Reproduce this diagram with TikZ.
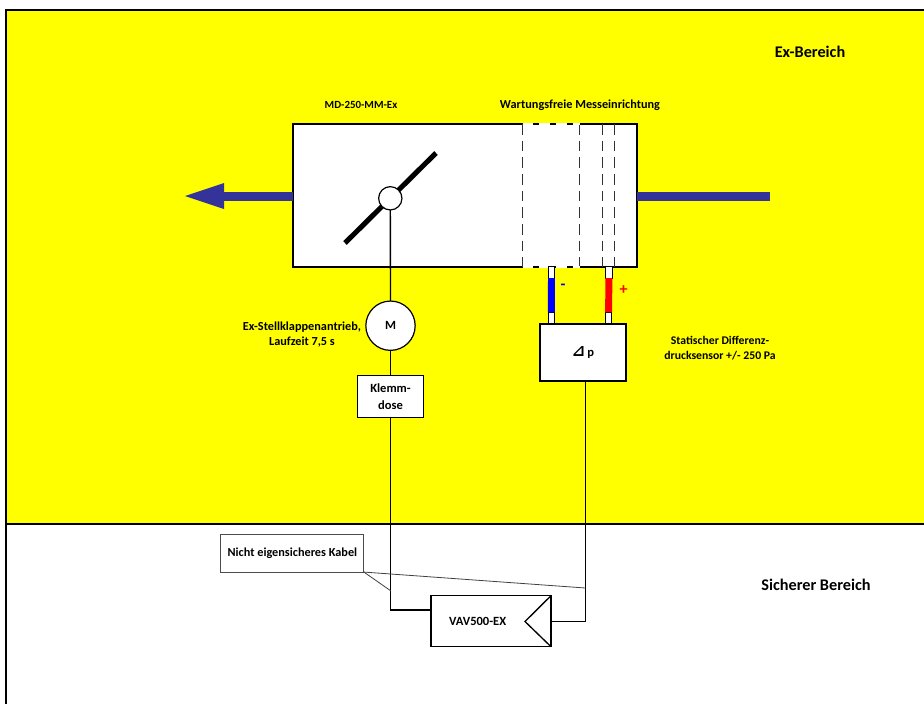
\documentclass[tikz,border=0pt]{standalone}
\usepackage{fontspec}
\setmainfont{Carlito}
\newfontfamily\symfont{DejaVu Sans}
\usepackage{xcolor}
\usetikzlibrary{arrows.meta,positioning,calc}
\definecolor{exyellow}{HTML}{FFFF00}
\definecolor{flowblue}{HTML}{333399}
\definecolor{tubeblue}{HTML}{0000FF}
\definecolor{tubered}{HTML}{FF0000}
\tikzset{
  boxnode/.style={draw=black, fill=white, line width=0.9pt, align=center, outer sep=0pt, inner sep=0pt, font=\fontsize{9.4}{12.4}\selectfont\bfseries},
  roundnode/.style={boxnode, circle},
  stubnode/.style={draw=black, fill=white, line width=0.7pt, outer sep=0pt, inner sep=0pt, minimum width=5pt, minimum height=8.5pt},
  textnode/.style={align=center, inner sep=0pt, font=\fontsize{9.2}{11.2}\selectfont\bfseries},
  zonetext/.style={textnode, font=\fontsize{12.2}{14}\selectfont\bfseries},
  signtext/.style={textnode, font=\fontsize{12}{14}\selectfont\bfseries},
  wire/.style={draw=black, line width=1pt},
  leader/.style={draw=black!75, line width=0.6pt},
  flow/.style={draw=flowblue, line width=6.6pt},
  tube/.style={line width=5.2pt},
  zone/.style={line width=0.9pt, draw=black}
}

\begin{document}
\begin{tikzpicture}[x=0.75pt, y=-0.75pt]
  \useasboundingbox (0,0) rectangle (924,704);
  % zones
  \fill[exyellow] (6,10) rectangle (924,524);
  \draw[zone] (6,704) -- (6,10) -- (924,10);
  \draw[zone] (6,524) -- (924,524);
  \node[zonetext] (exzone) at (810,52) {Ex-Bereich};
  \node[zonetext] (safezone) at (816,585) {Sicherer Bereich};

  % air flow
  \coordinate (flowin) at (770,196.5);
  \coordinate (flowtip) at (224,196.5);
  \node[boxnode, minimum width=258pt, minimum height=107.25pt] (duct) at (465,195.5) {};
  \draw[flow] (flowin) -- (flowin -| duct.east);
  \draw[flow] (duct.west |- flowtip) -- (flowtip);
  \fill[flowblue] (185,196) -- (224,183) -- (224,209) -- cycle;

  % measuring section
  \draw[black!80, line width=1pt, dash pattern=on 8pt off 4.5pt] (522.5,124) -- (522.5,267) (579.7,124) -- (579.7,267) (602.7,124) -- (602.7,267) (614.3,124) -- (614.3,267);
  \draw[white, line width=0.9pt, dash pattern=on 8pt off 4.5pt] (522.5,124) -- (579.7,124) (522.5,267) -- (579.7,267);
  \node[textnode, font=\fontsize{8.2}{10}\selectfont\bfseries] (ducttitle) at (361,105) {MD-250-MM-Ex};
  \node[textnode] (messtitle) at (580,105) {Wartungsfreie Messeinrichtung};

  % damper
  \coordinate (flapa) at (345,243);
  \coordinate (flapb) at (436,153);
  \draw[line width=3.8pt] (flapa) -- (flapb);
  \node[roundnode, minimum size=17.5pt] (shaft) at (390.3,198.3) {};
  \node[roundnode, minimum size=37pt] (motor) at (390.5,325.7) {M};
  \node[boxnode, minimum width=50pt, minimum height=31.5pt] (klemm) at (390.5,396.7) {Klemm-\\dose};
  \node[textnode] (motorlabel) at (302,334.5) {Ex-Stellklappenantrieb,\\Laufzeit 7,5 s};
  \draw[wire] (shaft) -- (motor);
  \draw[wire] (motor) -- (klemm);

  % sensor
  \node[boxnode, minimum width=64.5pt, minimum height=42.75pt] (sensor) at (583,352.5) {{\symfont\fontsize{12}{12}\selectfont\char"22BF}\,p};
  \node[stubnode] (stubminusa) at (551.5,272.5) {};
  \node[stubnode] (stubminusb) at (551.3,318) {};
  \node[stubnode] (stubplusa) at (609,272.5) {};
  \node[stubnode] (stubplusb) at (608.5,318) {};
  \draw[tube, tubeblue] (stubminusa) -- (stubminusb);
  \draw[tube, tubered] (stubplusa) -- (stubplusb);
  \node[signtext, text=tubeblue] (minuslabel) at (563,287) {-};
  \node[signtext, text=tubered] (pluslabel) at (623.5,290) {+};
  \node[textnode, font=\fontsize{8.8}{11.2}\selectfont\bfseries] (sensorlabel) at (720,348) {Statischer Differenz-\\drucksensor +/- 250 Pa};

  % controller
  \node[boxnode, minimum width=90pt, minimum height=38.25pt, label={[boxnode, draw=none, fill=none, xshift=-10pt]center:VAV500-EX}] (vav) at (491,621.2) {};
  \coordinate (vavnotch) at (525,621.5);
  \coordinate (vavin) at (431,610);
  \coordinate (sensorout) at (585.5,381);
  \draw[wire] (vav.north east) -- (vavnotch) -- (vav.south east);
  \draw[wire] (klemm) |- (vavin);
  \draw[wire] (sensorout) |- (vav.east);

  % callout
  \node[boxnode, draw=black!70, line width=0.7pt, minimum width=107.25pt, minimum height=28pt, font=\fontsize{9.2}{11}\selectfont\bfseries] (kabel) at (292.4,553.4) {Nicht eigensicheres Kabel};
  \coordinate (kabela) at (391,591);
  \coordinate (kabelb) at (585.5,588);
  \draw[leader] (kabel.south east) -- (kabela);
  \draw[leader] (kabel.south east) -- (kabelb);
\end{tikzpicture}
\end{document}
